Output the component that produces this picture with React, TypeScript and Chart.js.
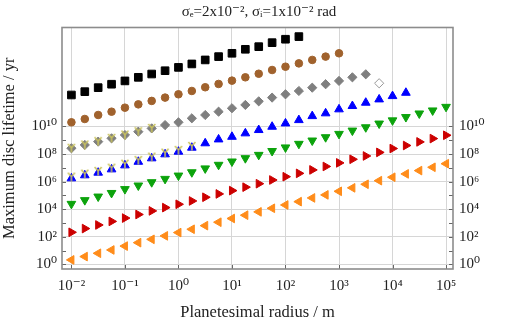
import React, { useEffect, useRef } from 'react';
import { Chart, registerables } from 'chart.js';

Chart.register(...registerables);

// Planetesimal radius (log10 m), one point every quarter decade
const radiusExp = [
  -2, -1.75, -1.5, -1.25, -1, -0.75, -0.5, -0.25, 0, 0.25, 0.5, 0.75, 1, 1.25, 1.5,
  1.75, 2, 2.25, 2.5, 2.75, 3, 3.25, 3.5, 3.75, 4, 4.25, 4.5, 4.75, 5,
];

// Maximum disc lifetime (log10 yr) for each series
const blackExp = [12.28, 12.52, 12.81, 13.06, 13.3, 13.56, 13.8, 14.04, 14.28, 14.53, 14.82, 15.06, 15.3, 15.59, 15.78, 16.07, 16.32, 16.51];
const brownExp = [10.3, 10.54, 10.83, 11.07, 11.36, 11.6, 11.85, 12.09, 12.33, 12.57, 12.84, 13.08, 13.32, 13.56, 13.82, 14.09, 14.33, 14.57, 14.82, 15.06, 15.3];
const grayExp = [8.42, 8.66, 8.9, 9.14, 9.38, 9.62, 9.86, 10.1, 10.3, 10.59, 10.83, 11.07, 11.32, 11.56, 11.82, 12.09, 12.33, 12.57, 12.81, 13.06, 13.3, 13.56, 13.78];
const openDiamondRadiusExp = [3.75];
const openDiamondExp = [13.13];
const blueExp = [6.24, 6.46, 6.65, 6.89, 7.18, 7.44, 7.69, 7.98, 8.17, 8.46, 8.78, 9.06, 9.25, 9.5, 9.74, 9.98, 10.22, 10.46, 10.75, 10.95, 11.24, 11.48, 11.72, 11.96, 12.2, 12.44];
const greenExp = [4.39, 4.66, 4.92, 5.18, 5.46, 5.72, 5.96, 6.2, 6.44, 6.68, 6.96, 7.22, 7.46, 7.7, 7.94, 8.22, 8.48, 8.74, 8.98, 9.22, 9.46, 9.7, 9.94, 10.21, 10.44, 10.68, 10.94, 11.16, 11.42];
const redExp = [2.33, 2.6, 2.86, 3.12, 3.36, 3.62, 3.88, 4.12, 4.36, 4.6, 4.87, 5.11, 5.35, 5.6, 5.85, 6.12, 6.36, 6.6, 6.85, 7.1, 7.36, 7.62, 7.86, 8.12, 8.4, 8.62, 8.88, 9.12, 9.36];
const orangeExp = [0.33, 0.57, 0.81, 1.05, 1.33, 1.58, 1.82, 2.07, 2.31, 2.55, 2.81, 3.06, 3.33, 3.57, 3.81, 4.07, 4.31, 4.55, 4.82, 5.04, 5.3, 5.55, 5.81, 6.07, 6.32, 6.56, 6.8, 7.04, 7.3];
const yellowOnGrayExp = [8.45, 8.69, 8.93, 9.17, 9.41, 9.65, 9.89];
const yellowOnBlueExp = [6.36, 6.58, 6.77, 7.01, 7.3, 7.56, 7.81, 8.1, 8.29, 8.58];

// Axis ticks (log10)
const xTickExp = [-2, -1, 0, 1, 2, 3, 4, 5];
const yTickExp = [0, 1, 2, 3, 4, 5, 6, 7, 8, 9, 10];
const yLabelExp = [0, 2, 4, 6, 8, 10];
const xRangeExp = [-2.176, 5.13];
const yRangeExp = [-0.33, 17.17];

const TITLE = 'σₑ=2x10⁻², σᵢ=1x10⁻² rad';
const X_TITLE = 'Planetesimal radius / m';
const Y_TITLE = 'Maximum disc lifetime / yr';

const SUP: Record<string, string> = {
  '-': '⁻', '0': '⁰', '1': '¹', '2': '²', '3': '³', '4': '⁴',
  '5': '⁵', '6': '⁶', '7': '⁷', '8': '⁸', '9': '⁹',
};
const powLabel = (e: number) => '10' + String(e).split('').map((c) => SUP[c] ?? c).join('');
const expOf = (v: number) => Math.round(Math.log10(v));

const pts = (xs: number[], ys: number[]) => ys.map((v, i) => ({ x: Math.pow(10, xs[i]), y: Math.pow(10, v) }));

const FONT = "'Liberation Serif', 'DejaVu Serif', serif";

function makeYMarker(): HTMLCanvasElement {
  const c = document.createElement('canvas');
  c.width = 10;
  c.height = 10;
  const g = c.getContext('2d')!;
  g.strokeStyle = '#c9c25e';
  g.lineWidth = 1.6;
  g.beginPath();
  g.moveTo(5, 5);
  g.lineTo(1.5, 1);
  g.moveTo(5, 5);
  g.lineTo(8.5, 1);
  g.moveTo(5, 5);
  g.lineTo(5, 9.5);
  g.stroke();
  return c;
}

const framePlugin = {
  id: 'frameTicks',
  afterDraw(chart: any) {
    const { ctx, chartArea, scales } = chart;
    const { left, right, top, bottom } = chartArea;
    ctx.save();
    ctx.beginPath();
    ctx.strokeStyle = '#666';
    ctx.lineWidth = 1;
    yTickExp.forEach((e) => {
      const y = Math.round(scales.y.getPixelForValue(Math.pow(10, e))) + 0.5;
      ctx.moveTo(left, y);
      ctx.lineTo(left + 4, y);
      ctx.moveTo(right, y);
      ctx.lineTo(right - 4, y);
    });
    xTickExp.forEach((e) => {
      const x = Math.round(scales.x.getPixelForValue(Math.pow(10, e))) + 0.5;
      ctx.moveTo(x, bottom);
      ctx.lineTo(x, bottom - 4);
    });
    ctx.stroke();
    ctx.strokeStyle = '#8c8c8c';
    ctx.lineWidth = 1.6;
    ctx.strokeRect(left, top, right - left, bottom - top);
    ctx.restore();
  },
};

export default function App() {
  const ref = useRef<HTMLCanvasElement | null>(null);

  useEffect(() => {
    document.body.style.margin = '0';
    if (!ref.current) return;
    const yMark = makeYMarker();
    const common = { showLine: false, borderWidth: 1 };
    const chart = new Chart(ref.current, {
      type: 'scatter',
      data: {
        datasets: [
          { ...common, label: 'yg', data: pts(radiusExp, yellowOnGrayExp), pointStyle: yMark as any, pointRadius: 5, backgroundColor: '#c9c25e', borderColor: '#c9c25e' },
          { ...common, label: 'yb', data: pts(radiusExp, yellowOnBlueExp), pointStyle: yMark as any, pointRadius: 5, backgroundColor: '#c9c25e', borderColor: '#c9c25e' },
          { ...common, label: 'black', data: pts(radiusExp, blackExp), pointStyle: 'rect', pointRadius: 5.4, backgroundColor: '#000', borderColor: '#000' },
          { ...common, label: 'brown', data: pts(radiusExp, brownExp), pointStyle: 'circle', pointRadius: 3.8, backgroundColor: '#a0622d', borderColor: '#a0622d' },
          { ...common, label: 'gray', data: pts(radiusExp, grayExp), pointStyle: 'rectRot', pointRadius: 4.6, backgroundColor: '#7f7f7f', borderColor: '#7f7f7f' },
          { ...common, label: 'open', data: pts(openDiamondRadiusExp, openDiamondExp), pointStyle: 'rectRot', pointRadius: 4.6, backgroundColor: '#fff', borderColor: '#999' },
          { ...common, label: 'blue', data: pts(radiusExp, blueExp), pointStyle: 'triangle', pointRadius: 5, backgroundColor: '#0000ff', borderColor: '#0000ff' },
          { ...common, label: 'green', data: pts(radiusExp, greenExp), pointStyle: 'triangle', rotation: 180, pointRadius: 5, backgroundColor: '#0ca30c', borderColor: '#0ca30c' },
          { ...common, label: 'red', data: pts(radiusExp, redExp), pointStyle: 'triangle', rotation: 90, pointRadius: 5, backgroundColor: '#cc0000', borderColor: '#cc0000' },
          { ...common, label: 'orange', data: pts(radiusExp, orangeExp), pointStyle: 'triangle', rotation: -90, pointRadius: 5, backgroundColor: '#ff8c1a', borderColor: '#ff8c1a' },
        ] as any,
      },
      options: {
        animation: false,
        responsive: true,
        maintainAspectRatio: false,
        layout: { padding: 0 },
        plugins: {
          legend: { display: false },
          tooltip: { enabled: false },
          title: {
            display: true,
            text: TITLE,
            color: '#222',
            font: { family: FONT, size: 15, weight: 'normal' as any, lineHeight: 1.2 },
            padding: { top: 3, bottom: 6.5 },
          },
        },
        scales: {
          x: {
            type: 'logarithmic',
            min: Math.pow(10, xRangeExp[0]),
            max: Math.pow(10, xRangeExp[1]),
            afterBuildTicks: (s: any) => { s.ticks = xTickExp.map((e) => ({ value: Math.pow(10, e) })); },
            afterFit: (s: any) => { s.height = 54; },
            border: { display: false },
            grid: { color: '#d6d6d6', lineWidth: 1, drawTicks: false },
            ticks: {
              autoSkip: false, maxRotation: 0, padding: 8, color: '#222',
              font: { family: FONT, size: 15 },
              callback: (v: any) => powLabel(expOf(Number(v))),
            },
            title: { display: true, text: X_TITLE, color: '#222', font: { family: FONT, size: 16.5 }, padding: { top: 0, bottom: 0 } },
          },
          y: {
            type: 'logarithmic',
            position: 'left',
            min: Math.pow(10, yRangeExp[0]),
            max: Math.pow(10, yRangeExp[1]),
            afterBuildTicks: (s: any) => { s.ticks = yTickExp.map((e) => ({ value: Math.pow(10, e) })); },
            afterFit: (s: any) => { s.width = 62; },
            border: { display: false },
            grid: {
              drawTicks: false,
              lineWidth: 1,
              color: (c: any) => (c.tick && yLabelExp.includes(expOf(c.tick.value)) ? '#d6d6d6' : 'rgba(0,0,0,0)'),
            },
            ticks: {
              autoSkip: false, padding: 5, color: '#222',
              font: { family: FONT, size: 15 },
              callback: (v: any) => (yLabelExp.includes(expOf(Number(v))) ? powLabel(expOf(Number(v))) : ''),
            },
            title: { display: true, text: Y_TITLE, color: '#222', font: { family: FONT, size: 16.5 }, padding: { top: 0, bottom: 0 } },
          },
          y2: {
            type: 'logarithmic',
            position: 'right',
            display: true,
            min: Math.pow(10, yRangeExp[0]),
            max: Math.pow(10, yRangeExp[1]),
            afterBuildTicks: (s: any) => { s.ticks = yTickExp.map((e) => ({ value: Math.pow(10, e) })); },
            afterFit: (s: any) => { s.width = 65; },
            border: { display: false },
            grid: { display: false, drawTicks: false },
            ticks: {
              autoSkip: false, padding: 6, color: '#222',
              font: { family: FONT, size: 15 },
              callback: (v: any) => (yLabelExp.includes(expOf(Number(v))) ? powLabel(expOf(Number(v))) : ''),
            },
          },
        },
      } as any,
      plugins: [framePlugin],
    });
    return () => chart.destroy();
  }, []);

  return (
    <div style={{ position: 'relative', width: 518, height: 323 }}>
      <canvas ref={ref} />
    </div>
  );
}
